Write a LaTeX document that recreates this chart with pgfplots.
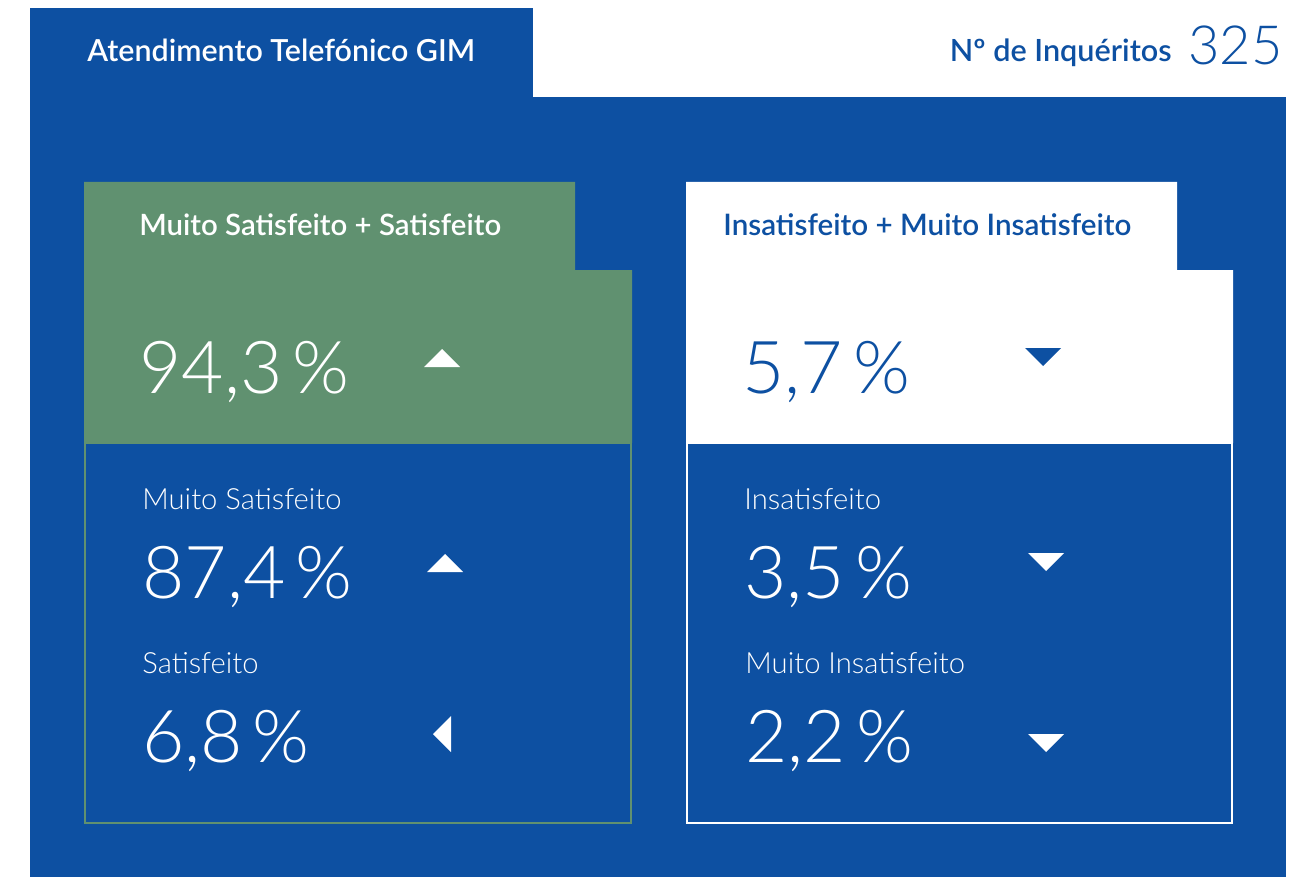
\documentclass[border=0pt]{standalone}
\usepackage{fontspec}
\setmainfont{Lato}
\newfontfamily\light{Lato Light}
\newfontfamily\med{Lato Semibold}
\usepackage{pgfplots}
\pgfplotsset{compat=1.18}
\definecolor{gimblue}{RGB}{13,80,162}
\definecolor{gimgreen}{RGB}{96,145,112}
\pgfdeclareplotmark{tup}{%
 \pgfpathmoveto{\pgfpoint{-\pgfplotmarksize}{-0.5\pgfplotmarksize}}%
 \pgfpathlineto{\pgfpoint{\pgfplotmarksize}{-0.5\pgfplotmarksize}}%
 \pgfpathlineto{\pgfpoint{0pt}{0.5\pgfplotmarksize}}%
 \pgfpathclose\pgfusepathqfill}
\pgfdeclareplotmark{tdown}{%
 \pgfpathmoveto{\pgfpoint{-\pgfplotmarksize}{0.5\pgfplotmarksize}}%
 \pgfpathlineto{\pgfpoint{\pgfplotmarksize}{0.5\pgfplotmarksize}}%
 \pgfpathlineto{\pgfpoint{0pt}{-0.5\pgfplotmarksize}}%
 \pgfpathclose\pgfusepathqfill}
\pgfdeclareplotmark{tleft}{%
 \pgfpathmoveto{\pgfpoint{0.5\pgfplotmarksize}{\pgfplotmarksize}}%
 \pgfpathlineto{\pgfpoint{0.5\pgfplotmarksize}{-\pgfplotmarksize}}%
 \pgfpathlineto{\pgfpoint{-0.5\pgfplotmarksize}{0pt}}%
 \pgfpathclose\pgfusepathqfill}
\pgfplotsset{
  pct/.style={mark=none, draw=none, point meta=explicit,
    nodes near coords={\pgfmathprintnumber[assume math mode=true,use comma,fixed,fixed zerofill,precision=1]{\pgfplotspointmeta}\hspace{5pt}\%},
    every node near coord/.append style={anchor=base west, inner sep=0pt, text=#1,
      font=\light\fontsize{36.5}{42}\selectfont}},
}
\begin{document}
\begin{tikzpicture}
\begin{axis}[width=652pt, height=438.5pt, scale only axis,
  xmin=0, xmax=1304, ymin=0, ymax=877, y dir=reverse,
  hide axis, clip=false]
% backgrounds
\fill[white] (axis cs:0,0) rectangle (axis cs:1304,877);
\fill[gimblue] (axis cs:30,8) rectangle (axis cs:533,98);
\fill[gimblue] (axis cs:30,97) rectangle (axis cs:1286,877);
\fill[gimgreen] (axis cs:84,182) -- (axis cs:575,182) -- (axis cs:575,270) -- (axis cs:632,270) -- (axis cs:632,443) -- (axis cs:84,443) -- cycle;
\draw[gimgreen, line width=1pt] (axis cs:85,443) rectangle (axis cs:631,823);
\fill[white] (axis cs:686,182) -- (axis cs:1177,182) -- (axis cs:1177,270) -- (axis cs:1233,270) -- (axis cs:1233,443) -- (axis cs:686,443) -- cycle;
\draw[white, line width=1pt] (axis cs:687,443) rectangle (axis cs:1232,823);
% header texts
\node[anchor=base west, inner sep=0pt, text=white, font=\med\fontsize{15.2}{18}\selectfont] at (axis cs:87,62) {Atendimento Telefónico GIM};
\node[anchor=base east, inner sep=0pt, text=gimblue, font=\med\fontsize{15.3}{18}\selectfont] at (axis cs:1172,62) {Nº de Inquéritos};
\node[anchor=base east, inner sep=0pt, text=gimblue, font=\light\fontsize{27}{32}\selectfont] at (axis cs:1283,65) {325};
% card titles
\node[anchor=base west, inner sep=0pt, text=white, font=\med\fontsize{14.7}{18}\selectfont] at (axis cs:139,235) {Muito Satisfeito + Satisfeito};
\node[anchor=base west, inner sep=0pt, text=gimblue, font=\med\fontsize{14.8}{18}\selectfont] at (axis cs:723,235) {Insatisfeito + Muito Insatisfeito};
\node[anchor=base west, inner sep=0pt, text=white, font=\light\fontsize{14.6}{18}\selectfont] at (axis cs:142,509) {Muito Satisfeito};
\node[anchor=base west, inner sep=0pt, text=white, font=\light\fontsize{14.6}{18}\selectfont] at (axis cs:142,673) {Satisfeito};
\node[anchor=base west, inner sep=0pt, text=white, font=\light\fontsize{14.6}{18}\selectfont] at (axis cs:744,509) {Insatisfeito};
\node[anchor=base west, inner sep=0pt, text=white, font=\light\fontsize{14.6}{18}\selectfont] at (axis cs:745,673) {Muito Insatisfeito};
% percentages
\addplot[pct=white] coordinates {(139,393) [94.3] (142,598) [87.4] (142,762) [6.8] (744,598) [3.5] (745,762) [2.2]};
\addplot[pct=gimblue] coordinates {(742,393) [5.7]};
% trend markers
\addplot[only marks, mark=tup, mark size=9pt, color=white, mark options={fill=white, draw=none}] coordinates {(442,358) (445,563)};
\addplot[only marks, mark=tleft, mark size=9pt, color=white, mark options={fill=white, draw=none}] coordinates {(442,734)};
\addplot[only marks, mark=tdown, mark size=9pt, color=white, mark options={fill=white, draw=none}] coordinates {(1046,562) (1046,743)};
\addplot[only marks, mark=tdown, mark size=9pt, color=gimblue, mark options={fill=gimblue, draw=none}] coordinates {(1043,357)};
\end{axis}
\end{tikzpicture}
\end{document}
